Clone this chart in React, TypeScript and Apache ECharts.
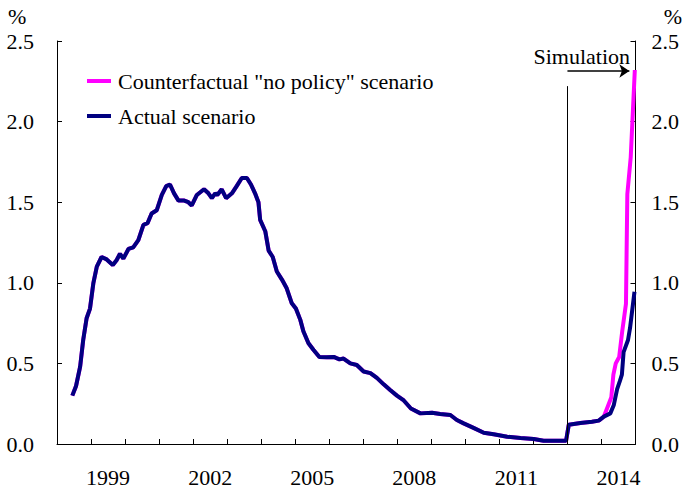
import React, { useEffect, useRef } from "react";
import * as echarts from "echarts";

const yearLabels = [1999, 2002, 2005, 2008, 2011, 2014];
const yTicks = ["0.0", "0.5", "1.0", "1.5", "2.0", "2.5"];

// decimal year positions and values (%) for the actual scenario
const actualYears = [
  1998.45, 1998.56, 1998.68, 1998.77, 1998.87, 1998.97, 1999.07, 1999.17, 1999.31, 1999.46,
  1999.64, 1999.75, 1999.85, 1999.95, 2000.1, 2000.24, 2000.39, 2000.54, 2000.66, 2000.78,
  2000.93, 2001.08, 2001.21, 2001.32, 2001.44, 2001.57, 2001.74, 2001.86, 2001.96, 2002.11,
  2002.32, 2002.45, 2002.55, 2002.65, 2002.71, 2002.84, 2002.97, 2003.14, 2003.28, 2003.43,
  2003.58, 2003.7, 2003.82, 2003.92, 2003.97, 2004.12, 2004.22, 2004.34, 2004.46, 2004.61,
  2004.75, 2004.9, 2005.02, 2005.15, 2005.24, 2005.39, 2005.54, 2005.71, 2005.93, 2006.13,
  2006.3, 2006.42, 2006.62, 2006.81, 2007.01, 2007.21, 2007.4, 2007.6, 2007.79, 2007.99,
  2008.19, 2008.4, 2008.68, 2009.02, 2009.26, 2009.56, 2009.75, 2009.95, 2010.24, 2010.54,
  2010.83, 2011.23, 2011.62, 2012.01, 2012.3, 2012.96, 2013.04, 2013.38, 2013.72, 2013.92,
  2014.07, 2014.26, 2014.36, 2014.46, 2014.54, 2014.6, 2014.65, 2014.78, 2014.84, 2014.97,
];
const actualValues = [
  0.3, 0.36, 0.48, 0.645, 0.78, 0.84, 1.0, 1.1, 1.16, 1.145,
  1.11, 1.14, 1.18, 1.15, 1.21, 1.22, 1.265, 1.36, 1.37, 1.43,
  1.45, 1.545, 1.6, 1.61, 1.555, 1.51, 1.51, 1.5, 1.48, 1.545,
  1.58, 1.555, 1.525, 1.555, 1.545, 1.58, 1.525, 1.555, 1.6, 1.65,
  1.65, 1.61, 1.555, 1.5, 1.39, 1.32, 1.2, 1.16, 1.07, 1.02,
  0.966, 0.873, 0.84, 0.77, 0.7, 0.625, 0.583, 0.54, 0.538, 0.54,
  0.525, 0.53, 0.5, 0.49, 0.45, 0.44, 0.41, 0.37, 0.335, 0.3,
  0.27, 0.22, 0.19, 0.194, 0.186, 0.18, 0.149, 0.128, 0.1, 0.07,
  0.06, 0.045, 0.037, 0.031, 0.02, 0.02, 0.12, 0.13, 0.138, 0.145,
  0.17, 0.19, 0.24, 0.34, 0.39, 0.43, 0.57, 0.645, 0.72, 0.945,
];

// counterfactual departs from the actual path after early 2014
const counterYears = [2014.07, 2014.18, 2014.29, 2014.35, 2014.42, 2014.52, 2014.61, 2014.72, 2014.76, 2014.86, 2014.98];
const counterValues = [0.17, 0.23, 0.29, 0.43, 0.5, 0.54, 0.7, 0.87, 1.55, 1.78, 2.32];

const simulationStart = 2013;
const simulationLineTop = 2.22;
const arrowLevel = 2.314;
const arrowEnd = 2014.82;

const FONT = "Liberation Serif";
const FS = 22;

export default function App() {
  const ref = useRef<HTMLDivElement>(null);
  useEffect(() => {
    if (!ref.current) return;
    document.body.style.margin = "0";
    const chart = echarts.init(ref.current, undefined, { renderer: "svg" });
    const actual = actualYears.map((x, i) => [x, actualValues[i]]);
    const counter = actual
      .filter((p) => p[0] < counterYears[0])
      .concat(counterYears.map((x, i) => [x, counterValues[i]]));
    const axisLine = { show: true, lineStyle: { color: "#000", width: 1 } };
    const yCommon = {
      type: "value",
      min: 0,
      max: 2.5,
      interval: 0.5,
      splitLine: { show: false },
      axisLine,
      axisTick: { show: true, inside: true, length: 5, lineStyle: { color: "#000" } },
    };
    chart.setOption({
      animation: false,
      backgroundColor: "#fff",
      textStyle: { fontFamily: FONT },
      grid: { left: 57, right: 46, top: 41, bottom: 44, containLabel: false },
      legend: {
        show: true,
        orient: "vertical",
        left: 87,
        top: 70,
        padding: 0,
        icon: "rect",
        itemWidth: 24,
        itemHeight: 4,
        itemGap: 13,
        textStyle: { fontFamily: FONT, fontSize: FS, color: "#000", padding: [0, 0, 0, 2] },
        data: ['Counterfactual "no policy" scenario', "Actual scenario"],
      },
      xAxis: {
        type: "value",
        min: 1998,
        max: 2015,
        interval: 1,
        splitLine: { show: false },
        axisLine,
        axisTick: {
          show: true,
          inside: true,
          length: 5,
          lineStyle: { color: "#000" },
        },
        axisLabel: {
          customValues: yearLabels.map((y) => y + 0.5),
          formatter: (v: number) => String(Math.floor(v)),
          fontFamily: FONT,
          fontSize: FS,
          color: "#000",
          margin: 22,
        },
      },
      yAxis: [
        {
          ...yCommon,
          position: "left",
          axisLabel: {
            formatter: (v: number) => yTicks[Math.round(v * 2)],
            fontFamily: FONT,
            fontSize: FS,
            color: "#000",
            margin: 23,
          },
        },
        {
          ...yCommon,
          position: "right",
          axisLabel: {
            formatter: (v: number) => yTicks[Math.round(v * 2)],
            fontFamily: FONT,
            fontSize: FS,
            color: "#000",
            margin: 16,
          },
        },
      ],
      series: [
        {
          name: 'Counterfactual "no policy" scenario',
          type: "line",
          data: counter,
          showSymbol: false,
          symbol: "none",
          lineStyle: { color: "#FF00FF", width: 4 },
          itemStyle: { color: "#FF00FF" },
          z: 2,
          markLine: {
            silent: true,
            symbol: "none",
            label: { show: false },
            lineStyle: { color: "#000", width: 1, type: "solid" },
            data: [
              [
                { coord: [simulationStart, 0] },
                { coord: [simulationStart, simulationLineTop] },
              ],
            ],
          },
        },
        {
          name: "Actual scenario",
          type: "line",
          data: actual,
          showSymbol: false,
          symbol: "none",
          lineStyle: { color: "#000080", width: 4 },
          itemStyle: { color: "#000080" },
          z: 3,
          markLine: {
            silent: true,
            symbol: ["none", "arrow"],
            symbolSize: 10,
            label: { show: false },
            lineStyle: { color: "#000", width: 1.5, type: "solid" },
            itemStyle: { color: "#000" },
            data: [
              [
                { coord: [simulationStart, arrowLevel] },
                { coord: [arrowEnd, arrowLevel] },
              ],
            ],
          },
        },
      ],
      graphic: [
        {
          type: "text",
          left: 8,
          top: 5,
          style: { text: "%", fontFamily: FONT, fontSize: FS, fill: "#000" },
        },
        {
          type: "text",
          right: 0,
          top: 5,
          style: { text: "%", fontFamily: FONT, fontSize: FS, fill: "#000" },
        },
        {
          type: "text",
          right: 52,
          top: 45,
          style: { text: "Simulation", fontFamily: FONT, fontSize: FS, fill: "#000" },
        },
      ],
    });
    return () => chart.dispose();
  }, []);
  return <div ref={ref} style={{ width: 682, height: 488 }} />;
}
